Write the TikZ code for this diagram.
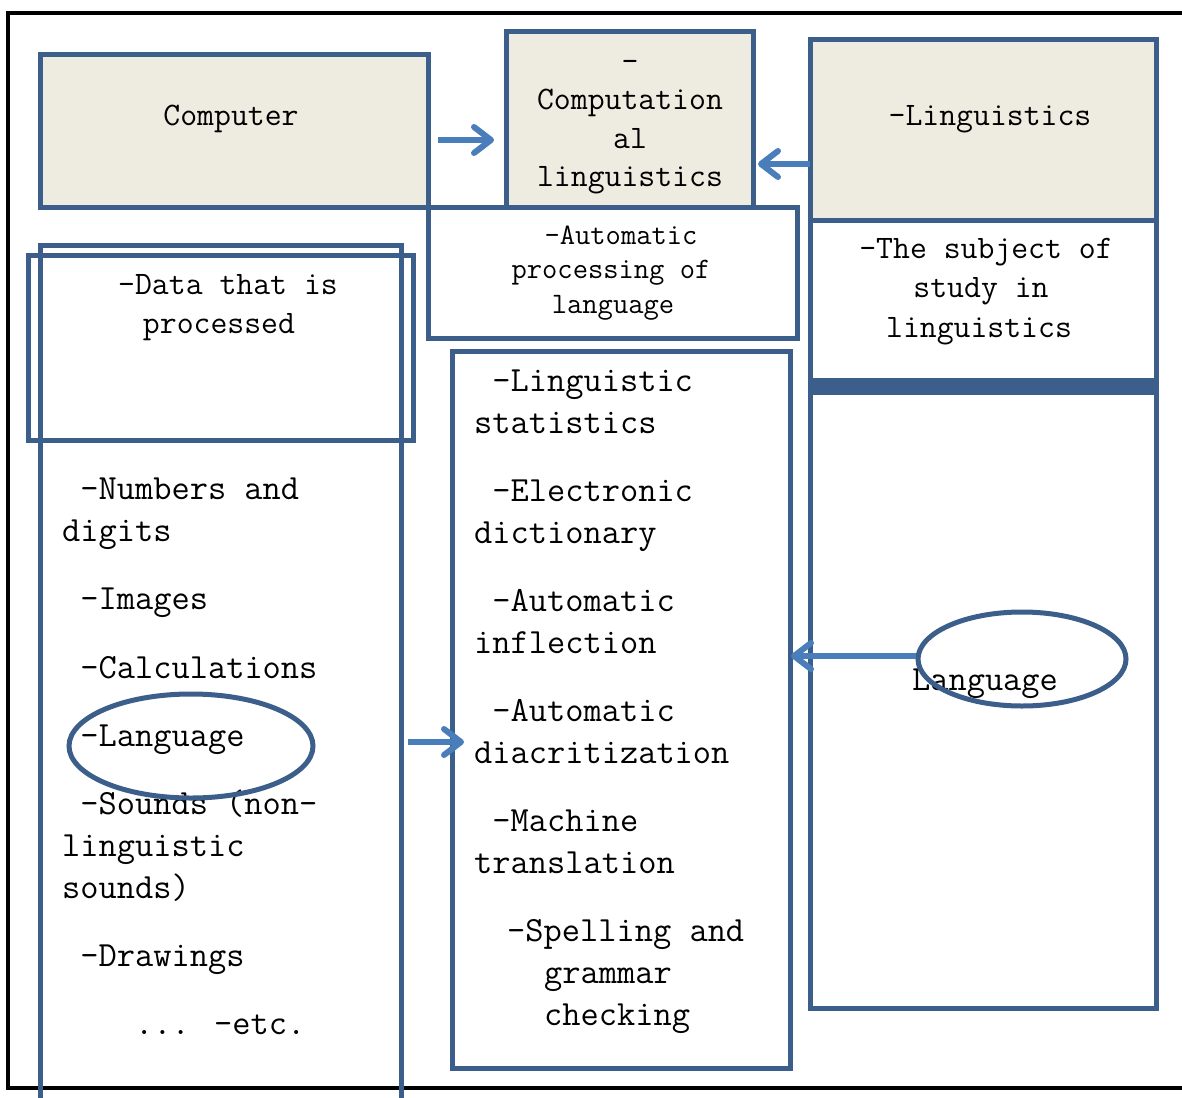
\documentclass[tikz,border=0pt]{standalone}
\usepackage{fontspec}
\usetikzlibrary{arrows.meta,shapes.geometric}
\definecolor{boxblue}{HTML}{3B5E8A}
\definecolor{arrblue}{HTML}{4A7EBB}
\definecolor{beige}{HTML}{EEECE1}
\begin{document}
\begin{tikzpicture}[x=1pt,y=-1pt,
  bx/.style={draw=boxblue,line width=5pt,inner sep=0pt,outer sep=0pt,anchor=north west,rectangle},
  ell/.style={draw=boxblue,line width=5pt,ellipse,inner sep=0pt},
  arr/.style={draw=arrblue,line width=6pt,-{Straight Barb[length=17pt,width=26pt,round]}},
  ttop/.style={font=\ttfamily\fontsize{32.8}{38}\selectfont,inner sep=0pt,anchor=mid},
  tsm/.style={font=\ttfamily\fontsize{29.7}{34}\selectfont,inner sep=0pt,anchor=mid},
  tlist/.style={font=\ttfamily\fontsize{35.4}{42}\selectfont,inner sep=0pt,anchor=mid west}]
\useasboundingbox (0,0) rectangle (1182,1097);
\clip (0,0) rectangle (1182,1097);
% outer frame
\draw[black,line width=3.5pt] (8,13) rectangle (1210,1088);
% top row
\node[bx,fill=beige,minimum width=388pt,minimum height=152pt] (computer) at (40,55) {};
\node[bx,fill=white,minimum width=369pt,minimum height=131pt] (auto) at (428,207) {};
\node[bx,fill=beige,minimum width=247pt,minimum height=175pt] (comp) at (506,32) {};
\node[bx,fill=beige,minimum width=346pt,minimum height=180pt] (ling) at (810,40) {};
\node[bx,fill=white,minimum width=346pt,minimum height=165pt] (subj) at (810,220) {};
\node[bx,fill=boxblue,minimum width=346pt,minimum height=12pt] (bar) at (810,380) {};
\node[bx,minimum width=346pt,minimum height=616pt] (lang) at (810,392) {};
% left column
\node[bx,minimum width=361pt,minimum height=870pt] (leftcol) at (40,245) {};
\node[bx,minimum width=385pt,minimum height=185pt] (data) at (28,255) {};
% middle list
\node[bx,minimum width=338pt,minimum height=717pt] (midbox) at (452,351) {};
% texts
\node[ttop] (tcomputer) at (231,123) {Computer};
\node[ttop] (tc1) at (630,69) {-};
\node[ttop] (tc2) at (630,107.5) {Computation};
\node[ttop] (tc3) at (630,146) {al};
\node[ttop] (tc4) at (630,184.5) {linguistics};
\node[ttop] (tling) at (990,123) {-Linguistics};
\node[tsm] (ta1) at (621,242) {-Automatic};
\node[tsm] (ta2) at (611,276) {processing of};
\node[tsm] (ta3) at (613,311) {language};
\node[ttop] (ts1) at (986,256) {-The subject of};
\node[ttop] (ts2) at (981,295) {study in};
\node[ttop] (ts3) at (979,335) {linguistics};
\node[ttop] (td1) at (228,292) {-Data that is};
\node[ttop] (td2) at (219,331) {processed};
% left list
\node[tlist] (l1) at (62,497) {~-Numbers and};
\node[tlist] (l2) at (62,539) {digits};
\node[tlist] (l3) at (62,607) {~-Images};
\node[tlist] (l4) at (62,676) {~-Calculations};
\node[tlist] (l5) at (62,744) {~-Language};
\node[tlist] (l6) at (62,812) {~-Sounds (non-};
\node[tlist] (l7) at (62,854) {linguistic};
\node[tlist] (l8) at (62,896) {sounds)};
\node[tlist] (l9) at (62,964) {~-Drawings};
\node[tlist] (l10) at (62,1032) {~~~~... -etc.};
% middle list
\node[tlist] (m1) at (474,389) {~-Linguistic};
\node[tlist] (m2) at (474,431) {statistics};
\node[tlist] (m3) at (474,499) {~-Electronic};
\node[tlist] (m4) at (474,541) {dictionary};
\node[tlist] (m5) at (474,609) {~-Automatic};
\node[tlist] (m6) at (474,651) {inflection};
\node[tlist] (m7) at (474,719) {~-Automatic};
\node[tlist] (m8) at (474,761) {diacritization};
\node[tlist] (m9) at (474,829) {~-Machine};
\node[tlist] (m10) at (474,871) {translation};
\node[tlist] (m11) at (507,939) {-Spelling and};
\node[tlist] (m12) at (544,981) {grammar};
\node[tlist] (m13) at (544,1023) {checking};
% ellipses
\node[ell,minimum width=244pt,minimum height=104pt] (ell1) at (191,746) {};
\node[tlist,anchor=mid] (tlang) at (985,688) {Language};
\node[ell,minimum width=208pt,minimum height=94pt] (ell2) at (1022,659) {};
% arrows
\coordinate (a1s) at (438,140);
\coordinate (a1e) at (494,140);
\draw[arr] (a1s) -- (a1e);
\coordinate (a2e) at (758,164);
\draw[arr] (ling.west |- a2e) -- (a2e);
\coordinate (a3s) at (408,742);
\coordinate (a3e) at (464,742);
\draw[arr] (a3s) -- (a3e);
\coordinate (a4e) at (791,656);
\draw[arr] (ell2.west |- a4e) -- (a4e);
\end{tikzpicture}
\end{document}
